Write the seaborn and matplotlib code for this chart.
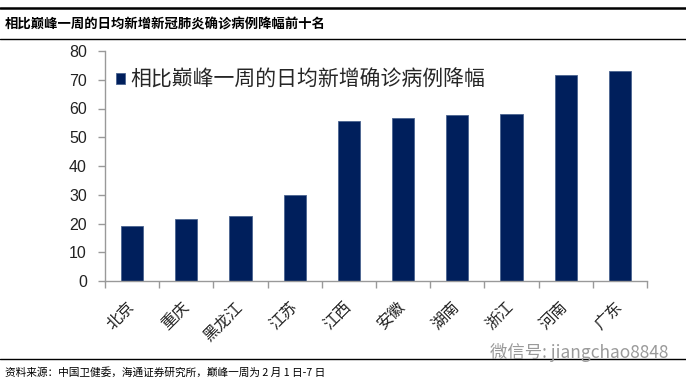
import matplotlib
matplotlib.use("Agg")
import matplotlib.pyplot as plt
import seaborn as sns
import numpy as np
import pandas as pd
from matplotlib.lines import Line2D

provinces = ["北京", "重庆", "黑龙江", "江苏", "江西", "安徽", "湖南", "浙江", "河南", "广东"]
decline = [19.1, 21.5, 22.7, 29.9, 55.6, 56.7, 57.6, 58.0, 71.5, 73.0]
series_name = "相比巅峰一周的日均新增确诊病例降幅"
title = "相比巅峰一周的日均新增新冠肺炎确诊病例降幅前十名"
source = "资料来源：中国卫健委，海通证券研究所，巅峰一周为 2 月 1 日-7 日"
watermark = "微信号: jiangchao8848"
y_ticks = [0, 10, 20, 30, 40, 50, 60, 70, 80]

sns.set_theme(style="white")
plt.rcParams['font.family'] = ['Noto Sans CJK SC', 'DejaVu Sans']

df = pd.DataFrame({"province": provinces, "decline": decline})

W, H = 686, 388
fig = plt.figure(figsize=(W / 100, H / 100), dpi=100)
ax = fig.add_axes([105 / W, 1 - 281 / H, (647 - 105) / W, (281 - 51) / H])

navy = "#001F5C"
sns.barplot(data=df, x="province", y="decline", color=navy, width=0.41,
            edgecolor="#4a6390", linewidth=0.6, saturation=1, ax=ax, label=series_name)

ax.set_xlim(-0.5, len(provinces) - 0.5)
ax.set_ylim(0, 80)
ax.set_yticks(y_ticks)
ax.set_yticklabels([str(v) for v in y_ticks], fontsize=11.5, family=['Liberation Sans', 'DejaVu Sans'], color="#222222")
ax.set_xlabel("")
ax.set_ylabel("")

for s in ["top", "right"]:
    ax.spines[s].set_visible(False)
for s in ["left", "bottom"]:
    ax.spines[s].set_color("#999999")
    ax.spines[s].set_linewidth(1.0)

ax.tick_params(axis="y", which="major", left=True, length=5, width=1, color="#999999", pad=8)
ax.set_xticks(np.arange(len(provinces)))
ax.set_xticklabels(provinces, rotation=45, ha="right", va="center", rotation_mode="anchor",
                   fontsize=11.5, color="#222222")
ax.tick_params(axis="x", which="major", bottom=False, length=0, pad=17)
ax.set_xticks(np.arange(len(provinces) + 1) - 0.5, minor=True)
ax.tick_params(axis="x", which="minor", bottom=True, length=5, width=1, color="#999999")

leg = ax.legend(loc="upper left", bbox_to_anchor=(0.004, 0.96), frameon=False,
                fontsize=15, handlelength=0.45, handleheight=0.45, handletextpad=0.25,
                borderaxespad=0)

# decorative lines and texts
fig.add_artist(Line2D([0, 1], [1 - 7.5 / H, 1 - 7.5 / H], color="black", lw=1.8))
fig.add_artist(Line2D([0, 1], [1 - 39 / H, 1 - 39 / H], color="black", lw=1.0))
fig.add_artist(Line2D([0, 1], [1 - 359 / H, 1 - 359 / H], color="black", lw=1.0))
fig.text(5 / W, 1 - 24 / H, title, fontsize=9.6, fontweight="bold", va="center", ha="left", color="black")
fig.text(5 / W, 1 - 372 / H, source, fontsize=7.7, va="center", ha="left", color="black")
fig.text(490 / W, 1 - 353 / H, watermark, fontsize=12.5, va="center", ha="left", color="#9a9a9a")

fig.savefig("out.png", dpi=100)
